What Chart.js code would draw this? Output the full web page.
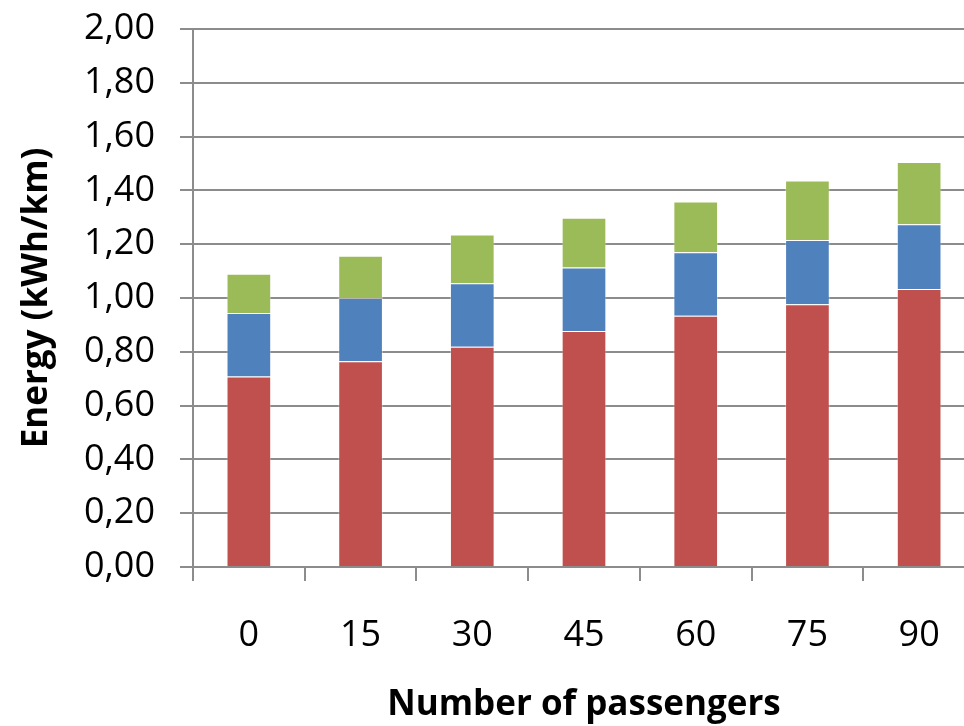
<!DOCTYPE html>
<html>
<head>
<meta charset="utf-8">
<script src="https://cdn.jsdelivr.net/npm/chart.js@4"></script>
<style>
  html, body { margin: 0; padding: 0; background: #fff; overflow: hidden; }
  #wrap { width: 990px; height: 726px; }
</style>
</head>
<body>
<div id="wrap"><canvas id="myChart" width="990" height="726"></canvas></div>
<script>
// passengers on board
var passengers = ['0', '15', '30', '45', '60', '75', '90'];

// stacked energy parts, kWh/km
var seriesRed   = [0.708, 0.765, 0.819, 0.877, 0.934, 0.977, 1.033];
var seriesBlue  = [0.236, 0.235, 0.236, 0.236, 0.236, 0.239, 0.241];
var seriesGreen = [0.146, 0.157, 0.181, 0.185, 0.189, 0.221, 0.232];

var yMin = 0, yMax = 2, yStep = 0.2;

var gridColor = '#8c8c8c';
var font = "'Open Sans', sans-serif";

function bar(label, data, color) {
  return {
    label: label,
    data: data,
    backgroundColor: color,
    borderColor: 'rgba(255,255,255,0.35)',
    borderWidth: 1,
    barPercentage: 0.4,
    categoryPercentage: 1.0
  };
}

var ctx = document.getElementById('myChart');
new Chart(ctx, {
  type: 'bar',
  data: {
    labels: passengers,
    datasets: [
      bar('Series 1', seriesRed, '#C0504D'),
      bar('Series 2', seriesBlue, '#4F81BD'),
      bar('Series 3', seriesGreen, '#9BBB59')
    ]
  },
  options: {
    responsive: false,
    animation: false,
    layout: { padding: { top: 29, right: 15, left: 0, bottom: 0 } },
    plugins: {
      legend: { display: false },
      tooltip: { enabled: false }
    },
    scales: {
      x: {
        stacked: true,
        afterFit: function(s) { s.height = 159; },
        grid: {
          offset: true,
          drawOnChartArea: false,
          drawTicks: true,
          tickLength: 14,
          color: gridColor,
          lineWidth: 2
        },
        border: { display: true, color: gridColor, width: 2 },
        ticks: {
          color: '#000',
          padding: 33,
          font: { family: font, size: 36 }
        },
        title: {
          display: true,
          text: 'Number of passengers',
          color: '#000',
          padding: { top: 0, bottom: 0 },
          font: { family: font, size: 35, weight: 'bold' }
        }
      },
      y: {
        stacked: true,
        min: yMin,
        max: yMax,
        afterFit: function(s) {
          s.width = 193;
          s.paddingTop = 0;
          s.paddingBottom = 0;
        },
        grid: {
          color: gridColor,
          lineWidth: 2,
          drawTicks: true,
          tickLength: 13
        },
        border: { display: true, color: gridColor, width: 2 },
        ticks: {
          stepSize: yStep,
          color: '#000',
          padding: 25,
          font: { family: font, size: 36 },
          callback: function(v) { return v.toFixed(2).replace('.', ','); }
        },
        title: {
          display: true,
          text: 'Energy (kWh/km)',
          color: '#000',
          padding: { top: 16, bottom: 0 },
          font: { family: font, size: 35, weight: 'bold' }
        }
      }
    }
  }
});
</script>
</body>
</html>
